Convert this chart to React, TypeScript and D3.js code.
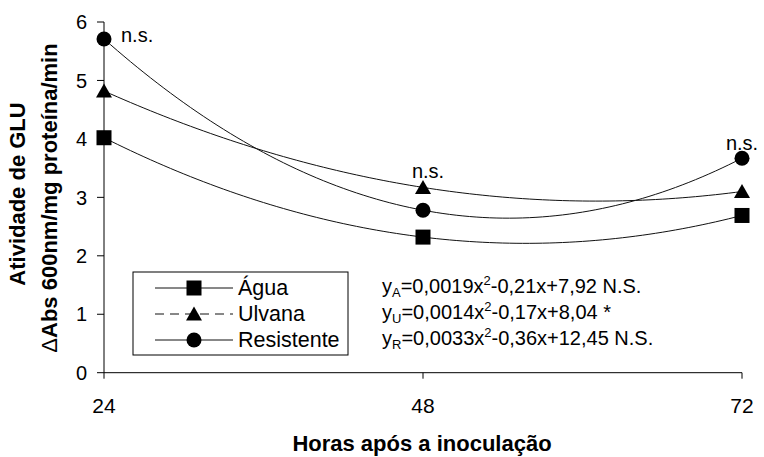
import React from "react";
import * as d3 from "d3";

const hours = [24, 48, 72];
const agua = [4.02, 2.32, 2.69];
const ulvana = [4.82, 3.17, 3.1];
const resistente = [5.71, 2.78, 3.67];
const yTicks = [0, 1, 2, 3, 4, 5, 6];
const xTicks = [24, 48, 72];
const seriesNames = ["Água", "Ulvana", "Resistente"];
const seriesMarkers = ["square", "triangle", "circle"];
const legendDashes = [null, "9,6", null];
const eqSubs = ["A", "U", "R"];
const eqCoefA = ["0,0019x", "0,0014x", "0,0033x"];
const eqRest = ["-0,21x+7,92 N.S.", "-0,17x+8,04 *", "-0,36x+12,45 N.S."];
const nsHours = [24, 48, 72];
const nsValues = [5.71, 3.17, 3.67];

const FONT = "Arial, 'Liberation Sans', sans-serif";

function quadThrough(xs: number[], ys: number[]) {
  return (x: number) => {
    let s = 0;
    for (let i = 0; i < 3; i++) {
      let t = ys[i];
      for (let j = 0; j < 3; j++) if (j !== i) t *= (x - xs[j]) / (xs[i] - xs[j]);
      s += t;
    }
    return s;
  };
}

function Marker({ type, cx, cy }: { type: string; cx: number; cy: number }) {
  if (type === "square") return <rect x={cx - 7.5} y={cy - 7.5} width={15} height={15} fill="#000" />;
  if (type === "circle") return <circle cx={cx} cy={cy} r={7.5} fill="#000" />;
  return <path d={`M${cx},${cy - 7.5}L${cx + 8},${cy + 6.5}L${cx - 8},${cy + 6.5}Z`} fill="#000" />;
}

export default function App() {
  const x = d3.scaleLinear().domain([24, 72]).range([104, 742]);
  const y = d3.scaleLinear().domain([0, 6]).range([372.7, 22]);
  const series = [agua, ulvana, resistente];
  const samples = d3.range(24, 72.001, 0.5);
  const line = d3.line<[number, number]>().x((d) => x(d[0])).y((d) => y(d[1]));

  return (
    <svg width={764} height={457} style={{ position: "absolute", left: 0, top: 0, background: "#fff" }} fontFamily={FONT}>
      {/* axes */}
      <line x1={104} x2={104} y1={y(6)} y2={y(0)} stroke="#000" strokeWidth={1} />
      <line x1={104} x2={742} y1={y(0)} y2={y(0)} stroke="#000" strokeWidth={1} />
      {yTicks.map((t) => (
        <g key={"y" + t}>
          <line x1={97} x2={104} y1={y(t)} y2={y(t)} stroke="#000" />
          <text x={87} y={y(t)} dy="0.36em" textAnchor="end" fontSize={20}>{t}</text>
        </g>
      ))}
      {xTicks.map((t) => (
        <g key={"x" + t}>
          <line x1={x(t)} x2={x(t)} y1={y(0)} y2={y(0) + 6} stroke="#000" />
          <text x={x(t)} y={413} textAnchor="middle" fontSize={21}>{t}</text>
        </g>
      ))}
      <text x={422} y={451} textAnchor="middle" fontSize={22} fontWeight="bold">Horas após a inoculação</text>
      <text transform="translate(25,194) rotate(-90)" textAnchor="middle" fontSize={22} fontWeight="bold">Atividade de GLU</text>
      <text transform="translate(57,198) rotate(-90)" textAnchor="middle" fontSize={22} fontWeight="bold">
        <tspan fontWeight="normal">Δ</tspan>Abs 600nm/mg proteína/min
      </text>

      {/* curves */}
      {series.map((s, i) => {
        const f = quadThrough(hours, s);
        const pts = samples.map((h) => [h, f(h)] as [number, number]);
        return <path key={"c" + i} d={line(pts) || ""} fill="none" stroke="#111" strokeWidth={1} />;
      })}
      {series.map((s, i) =>
        s.map((v, k) => <Marker key={`m${i}-${k}`} type={seriesMarkers[i]} cx={x(hours[k])} cy={y(v)} />)
      )}

      {/* n.s. labels */}
      <text x={x(nsHours[0]) + 17} y={y(nsValues[0]) + 3} fontSize={20}>n.s.</text>
      <text x={x(nsHours[1]) + 5} y={y(nsValues[1]) - 9} textAnchor="middle" fontSize={20}>n.s.</text>
      <text x={x(nsHours[2])} y={y(nsValues[2]) - 8} textAnchor="middle" fontSize={20}>n.s.</text>

      {/* legend */}
      <rect x={133} y={272} width={215} height={83} fill="#fff" stroke="#000" strokeWidth={1} />
      {seriesNames.map((n, i) => {
        const ry = 288 + i * 26;
        return (
          <g key={"l" + i}>
            <line x1={155} x2={233} y1={ry} y2={ry} stroke="#111" strokeDasharray={legendDashes[i] || undefined} />
            <Marker type={seriesMarkers[i]} cx={194} cy={ry} />
            <text x={238} y={ry + 7} fontSize={21.5}>{n}</text>
          </g>
        );
      })}

      {/* equations */}
      {eqSubs.map((s, i) => (
        <text key={"e" + i} x={382} y={293 + i * 26} fontSize={20}>
          y<tspan fontSize={13} dy={4}>{s}</tspan>
          <tspan dy={-4}>={eqCoefA[i]}</tspan>
          <tspan fontSize={13} dy={-8}>2</tspan>
          <tspan dy={8}>{eqRest[i]}</tspan>
        </text>
      ))}
    </svg>
  );
}
